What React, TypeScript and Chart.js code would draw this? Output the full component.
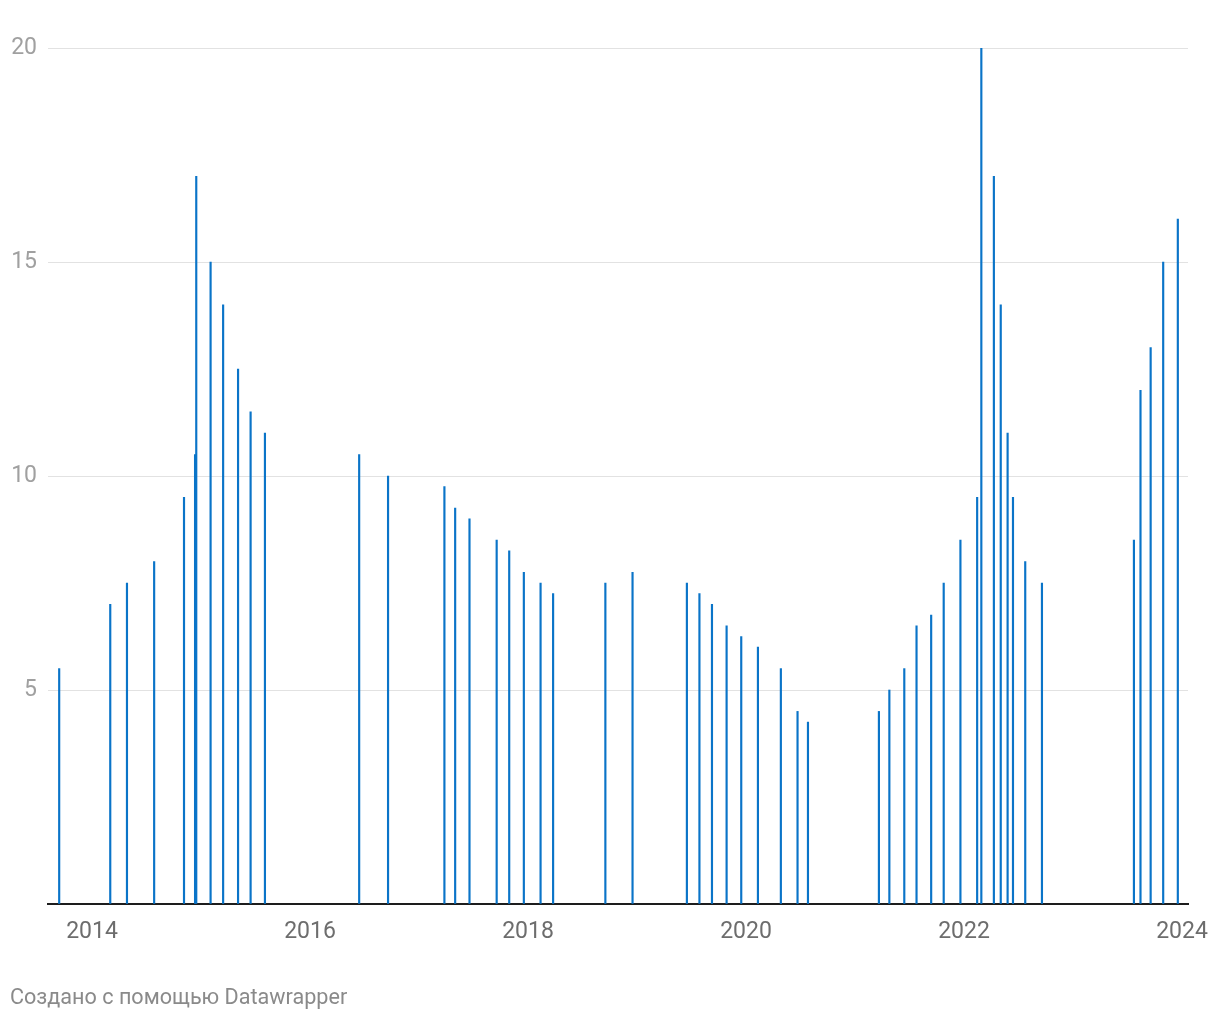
import React, { useEffect, useRef } from "react";
import { Chart, registerables } from "chart.js";

Chart.register(...registerables);

// Key rate change dates and values (%)
const rateDates: string[] = [
  "2013-09-13", "2014-03-03", "2014-04-28", "2014-07-28", "2014-11-05", "2014-12-12",
  "2014-12-16", "2015-02-02", "2015-03-16", "2015-05-05", "2015-06-16", "2015-08-03",
  "2016-06-14", "2016-09-19", "2017-03-27", "2017-05-02", "2017-06-19", "2017-09-18",
  "2017-10-30", "2017-12-18", "2018-02-12", "2018-03-26", "2018-09-17", "2018-12-17",
  "2019-06-17", "2019-07-29", "2019-09-09", "2019-10-28", "2019-12-16", "2020-02-10",
  "2020-04-27", "2020-06-22", "2020-07-27", "2021-03-22", "2021-04-26", "2021-06-15",
  "2021-07-26", "2021-09-13", "2021-10-25", "2021-12-20", "2022-02-14", "2022-02-28",
  "2022-04-11", "2022-05-04", "2022-05-27", "2022-06-14", "2022-07-25", "2022-09-19",
  "2023-07-24", "2023-08-15", "2023-09-18", "2023-10-30", "2023-12-18",
];

const rateValues: number[] = [
  5.5, 7, 7.5, 8, 9.5, 10.5,
  17, 15, 14, 12.5, 11.5, 11,
  10.5, 10, 9.75, 9.25, 9, 8.5,
  8.25, 7.75, 7.5, 7.25, 7.5, 7.75,
  7.5, 7.25, 7, 6.5, 6.25, 6,
  5.5, 4.5, 4.25, 4.5, 5, 5.5,
  6.5, 6.75, 7.5, 8.5, 9.5, 20,
  17, 14, 11, 9.5, 8, 7.5,
  8.5, 12, 13, 15, 16,
];

const xTickYears: number[] = [2014, 2016, 2018, 2020, 2022, 2024];
const yTickValues: number[] = [0, 5, 10, 15, 20];

const X_MIN = 2013.596;
const X_MAX = 2024.055;

function toYear(s: string): number {
  const [y, m, d] = s.split("-").map(Number);
  const start = Date.UTC(y, 0, 1);
  const end = Date.UTC(y + 1, 0, 1);
  return y + (Date.UTC(y, m - 1, d) - start) / (end - start);
}

const FONT = "Roboto, 'Noto Sans', sans-serif";

export default function App() {
  const canvasRef = useRef<HTMLCanvasElement | null>(null);

  useEffect(() => {
    document.body.style.margin = "0";
    const canvas = canvasRef.current;
    if (!canvas) return;
    const points = rateDates.map((d, i) => ({ x: toYear(d), y: rateValues[i] }));
    const chart = new Chart(canvas, {
      type: "bar",
      data: {
        datasets: [
          {
            data: points as any,
            backgroundColor: "#0a74c8",
            borderWidth: 0,
            barThickness: 1.5,
            grouped: false,
          } as any,
        ],
      },
      options: {
        animation: false,
        responsive: false,
        maintainAspectRatio: false,
        layout: { padding: { top: 48, left: 0, right: 32, bottom: 60 } },
        plugins: {
          legend: { display: false },
          tooltip: { enabled: false },
        },
        scales: {
          x: {
            type: "linear",
            min: X_MIN,
            max: X_MAX,
            offset: false,
            z: 1,
            grid: { display: false, drawTicks: false, offset: false },
            border: { display: true, color: "#1d1d1d", width: 2 },
            afterBuildTicks: (scale: any) => {
              scale.ticks = xTickYears.map((v) => ({ value: v }));
            },
            afterFit: (scale: any) => {
              scale.height = 56;
              scale.paddingLeft = 0;
              scale.paddingRight = 0;
            },
            ticks: {
              padding: 14,
              maxRotation: 0,
              autoSkip: false,
              color: "#6d6d6d",
              font: { family: FONT, size: 23 },
              callback: (v: any) => String(v),
            },
          },
          y: {
            type: "linear",
            min: 0,
            max: 20,
            grid: { color: "#e2e2e2", lineWidth: 1, drawTicks: false },
            border: { display: false },
            afterBuildTicks: (scale: any) => {
              scale.ticks = yTickValues.map((v) => ({ value: v }));
            },
            afterFit: (scale: any) => {
              scale.width = 48;
            },
            ticks: {
              padding: 11,
              color: "#a0a0a0",
              font: { family: FONT, size: 23 },
              callback: (v: any) => (v === 0 ? "" : String(v)),
            },
          },
        },
      } as any,
    });
    return () => chart.destroy();
  }, []);

  return (
    <div style={{ position: "relative", width: 1220, height: 1020, background: "#fff" }}>
      <canvas ref={canvasRef} width={1220} height={1020} style={{ display: "block" }} />
      <div
        style={{
          position: "absolute",
          left: 10,
          top: 984,
          fontFamily: FONT,
          fontSize: 21.6,
          color: "#8a8a8a",
          lineHeight: "26px",
          whiteSpace: "nowrap",
        }}
      >
        Создано с помощью Datawrapper
      </div>
    </div>
  );
}
